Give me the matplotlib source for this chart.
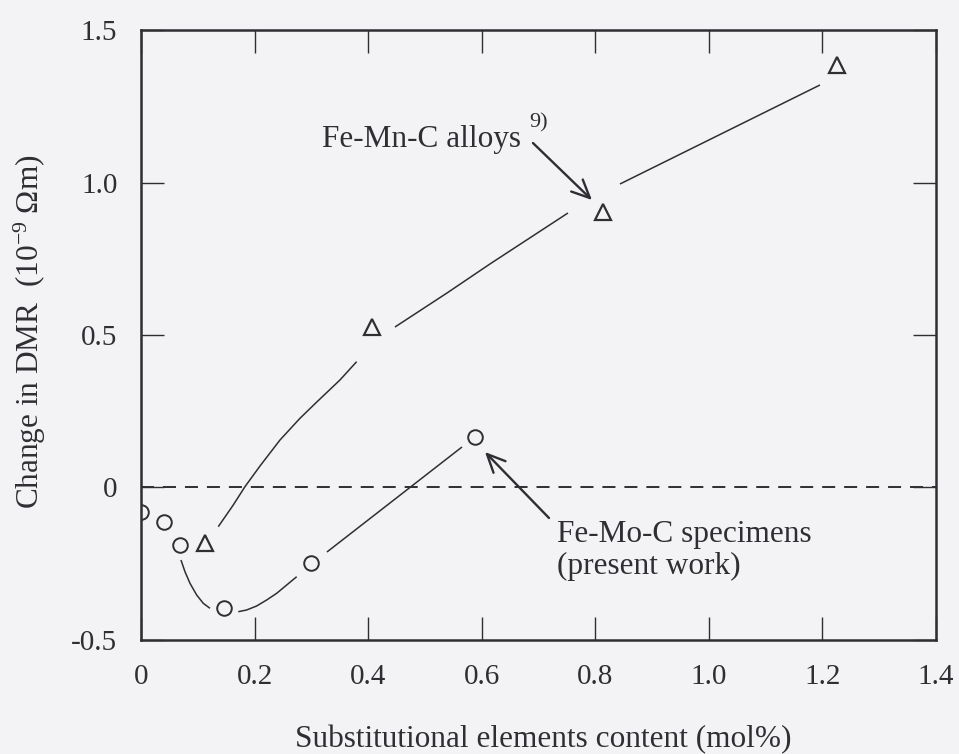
import numpy as np
import matplotlib
matplotlib.use("Agg")
import matplotlib.pyplot as plt

plt.rcParams['font.family'] = ['Liberation Serif', 'DejaVu Serif']
plt.rcParams['mathtext.fontset'] = 'custom'
plt.rcParams['mathtext.rm'] = 'Liberation Serif'
plt.rcParams['mathtext.it'] = 'Liberation Serif:italic'
plt.rcParams['axes.unicode_minus'] = False

ink = '#2f2f33'
paper = '#f3f3f6'

# Fe-Mo-C specimens (present work)
mo_x = [0.0, 0.041, 0.069, 0.146, 0.299, 0.588]
mo_y = [-0.079, -0.112, -0.189, -0.396, -0.249, 0.165]

# Fe-Mn-C alloys (ref. 9)
mn_x = [0.113, 0.406, 0.813, 1.226]
mn_y = [-0.183, 0.527, 0.902, 1.385]

# hand-drawn guide curves, broken around the markers
mo_curve = [
    ([0.0704, 0.0775, 0.0863, 0.0981, 0.1097, 0.1215],
     [-0.2377, -0.2761, -0.3141, -0.3525, -0.3797, -0.3961]),
    ([0.1713, 0.1861, 0.2037, 0.2213, 0.2390, 0.2566, 0.2742],
     [-0.4072, -0.4016, -0.3885, -0.3689, -0.3469, -0.3197, -0.2925]),
    ([0.3275, 0.5653], [-0.2115, 0.1328]),
]
mn_curve = [
    ([0.1361, 0.1625, 0.1831, 0.2096, 0.2448, 0.2800, 0.3094, 0.3504, 0.3798],
     [-0.1285, -0.0574, 0.0026, 0.0705, 0.1557, 0.2269, 0.2800, 0.3525, 0.4125]),
    ([0.4473, 0.5389, 0.6145, 0.7519], [0.5262, 0.6377, 0.7328, 0.9000]),
    ([0.8435, 1.1957], [0.9951, 1.3197]),
]

xticks = [0, 0.2, 0.4, 0.6, 0.8, 1.0, 1.2, 1.4]
xticklabels = ['0', '0.2', '0.4', '0.6', '0.8', '1.0', '1.2', '1.4']
yticks = [-0.5, 0, 0.5, 1.0, 1.5]
yticklabels = ['-0.5', '0', '0.5', '1.0', '1.5']

fig = plt.figure(figsize=(9.59, 7.54), dpi=100, facecolor=paper)
ax = fig.add_axes([0.147, 0.1512, 0.829, 0.809])
ax.set_facecolor(paper)

ax.axhline(0, color=ink, lw=1.4, ls=(0, (6.7, 4.6)))

for cx, cy in mo_curve:
    ax.plot(cx, cy, color=ink, lw=1.1, solid_capstyle='butt')
for cx, cy in mn_curve:
    ax.plot(cx, cy, color=ink, lw=1.1, solid_capstyle='butt')

ax.plot(mo_x, mo_y, ls='none', marker='o', ms=10.5, mfc=paper, mec=ink, mew=1.4)
ax.plot(mn_x, mn_y, ls='none', marker='^', ms=12, mfc=paper, mec=ink, mew=1.6)

ax.set_xlim(0, 1.4)
ax.set_ylim(-0.5, 1.5)
ax.set_xticks(xticks)
ax.set_xticklabels(xticklabels)
ax.set_yticks(yticks)
ax.set_yticklabels(yticklabels)
ax.tick_params(direction='in', length=16.5, width=1.0, color=ink,
               labelcolor=ink, labelsize=21, pad=17,
               top=True, right=True)
for s in ax.spines.values():
    s.set_linewidth(1.8)
    s.set_color(ink)

# annotations
arrow = dict(arrowstyle='->,head_length=0.65,head_width=0.3',
             color=ink, lw=1.7, mutation_scale=20, shrinkA=0, shrinkB=0)
ax.annotate('', xy=(0.7942, 0.9426), xytext=(0.6903, 1.1295), arrowprops=arrow)
ax.text(0.3187, 1.1164, 'Fe-Mn-C alloys', fontsize=22.5, color=ink, va='baseline')
ax.text(0.6845, 1.182, '9)', fontsize=16, color=ink, va='baseline')

ax.annotate('', xy=(0.6058, 0.1164), xytext=(0.7185, -0.1000), arrowprops=arrow)
ax.text(0.7325, -0.1803, 'Fe-Mo-C specimens', fontsize=22.5, color=ink, va='baseline')
ax.text(0.7325, -0.2820, '(present work)', fontsize=22.5, color=ink, va='baseline')

fig.text(543 / 959, 1 - 747 / 754, 'Substitutional elements content (mol%)',
         fontsize=22.5, color=ink, ha='center', va='baseline')
fig.text(30 / 959, 1 - 332 / 754, r'Change in DMR  (10$^{-9}$ $\Omega$m)',
         fontsize=22.5, color=ink, ha='center', va='center', rotation=90)

fig.savefig('out.png', dpi=100, facecolor=paper)
